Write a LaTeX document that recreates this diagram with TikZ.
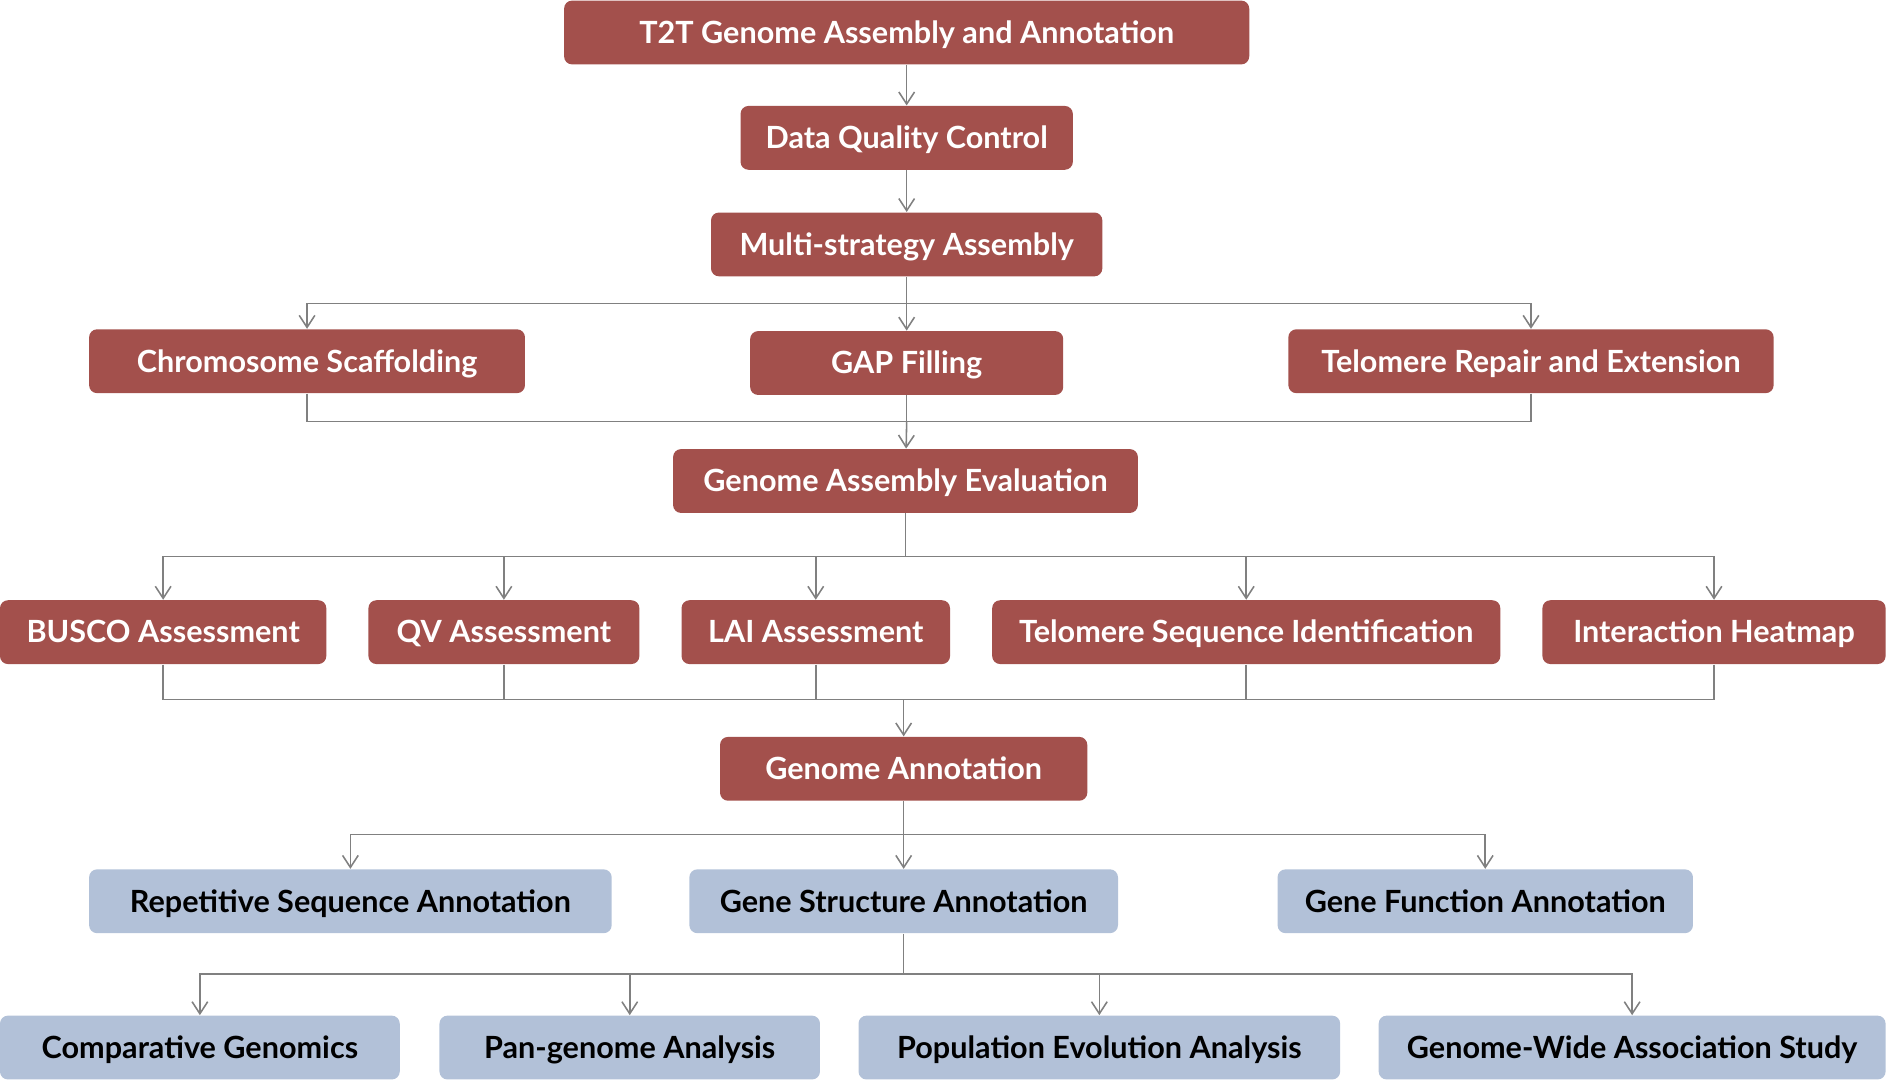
\documentclass[tikz,border=0pt]{standalone}
\usepackage{fontspec}
\setmainfont{Lato}
\usetikzlibrary{arrows.meta}
\definecolor{brick}{HTML}{A3504C}
\definecolor{steel}{HTML}{B2C1D8}
\definecolor{wire}{HTML}{808080}
\begin{document}
\begin{tikzpicture}[x=0.5pt, y=-0.5pt,
    box/.style={rounded corners=3.3pt, minimum height=26.5pt, inner sep=0pt, text height=9.8pt, text depth=0.8pt, font=\bfseries\fontsize{12.7}{14}\selectfont},
    stage/.style={box, fill=brick, text=white},
    study/.style={box, fill=steel, text=black},
    link/.style={draw=wire, line width=0.65pt},
    arr/.style={link, -{Straight Barb[length=5pt,width=6.5pt]}}]
    \useasboundingbox (0,0) rectangle (1568,898);

    \node[stage, minimum width=284.5pt] (t2t) at (753,27) {T2T Genome Assembly and Annotation};
    \node[stage, minimum width=138pt] (dqc) at (753,114.5) {Data Quality Control};
    \node[stage, minimum width=162.5pt] (msa) at (753,203) {Multi-strategy Assembly};

    \node[stage, minimum width=181pt] (cs) at (255,300) {Chromosome Scaffolding};
    \node[stage, minimum width=130pt] (gap) at (753,301.5) {GAP Filling};
    \node[stage, minimum width=201.5pt] (tre) at (1271.5,300) {Telomere Repair and Extension};

    \node[stage, minimum width=193pt] (gae) at (752,399.5) {Genome Assembly Evaluation};

    \node[stage, minimum width=135.5pt] (busco) at (135.5,525) {BUSCO Assessment};
    \node[stage, minimum width=112.5pt] (qv) at (418.5,525) {QV Assessment};
    \node[stage, minimum width=111.5pt] (lai) at (677.5,525) {LAI Assessment};
    \node[stage, minimum width=211pt] (tsi) at (1035,525) {Telomere Sequence Identification};
    \node[stage, minimum width=142.5pt] (ih) at (1423.5,525) {Interaction Heatmap};

    \node[stage, minimum width=152.5pt] (ga) at (750.5,638.5) {Genome Annotation};

    \node[study, minimum width=217pt] (rsa) at (291,748.5) {Repetitive Sequence Annotation};
    \node[study, minimum width=178pt] (gsa) at (750.5,748.5) {Gene Structure Annotation};
    \node[study, minimum width=172.5pt] (gfa) at (1233.5,748.5) {Gene Function Annotation};

    \node[study, minimum width=166pt] (cg) at (166,870) {Comparative Genomics};
    \node[study, minimum width=158pt] (pga) at (523,870) {Pan-genome Analysis};
    \node[study, minimum width=200pt] (pea) at (913,870) {Population Evolution Analysis};
    \node[study, minimum width=210.5pt] (gwas) at (1355.5,870) {Genome-Wide Association Study};

    % junctions
    \coordinate (j1) at (753,252);
    \coordinate (j2) at (753,350);
    \coordinate (j3) at (752,462);
    \coordinate (j4) at (750.5,581);
    \coordinate (j5) at (750.5,693);
    \coordinate (j6) at (750.5,809);

    \draw[arr] (t2t) -- (dqc);
    \draw[arr] (dqc) -- (msa);

    \draw[link] (msa) -- (j1);
    \foreach \n in {cs,gap,tre}
        \draw[arr] (j1) -| (\n);
    \foreach \n in {cs,gap,tre}
        \draw[link] (\n) |- (j2);
    \draw[arr] (j2) -- (gae);

    \draw[link] (gae) -- (j3);
    \foreach \n in {busco,qv,lai,tsi,ih}
        \draw[arr] (j3) -| (\n);
    \foreach \n in {busco,qv,lai,tsi,ih}
        \draw[link] (\n) |- (j4);
    \draw[arr] (j4) -- (ga);

    \draw[link] (ga) -- (j5);
    \foreach \n in {rsa,gsa,gfa}
        \draw[arr] (j5) -| (\n);

    \draw[link] (gsa) -- (j6);
    \foreach \n in {cg,pga,pea,gwas}
        \draw[arr] (j6) -| (\n);
\end{tikzpicture}
\end{document}
